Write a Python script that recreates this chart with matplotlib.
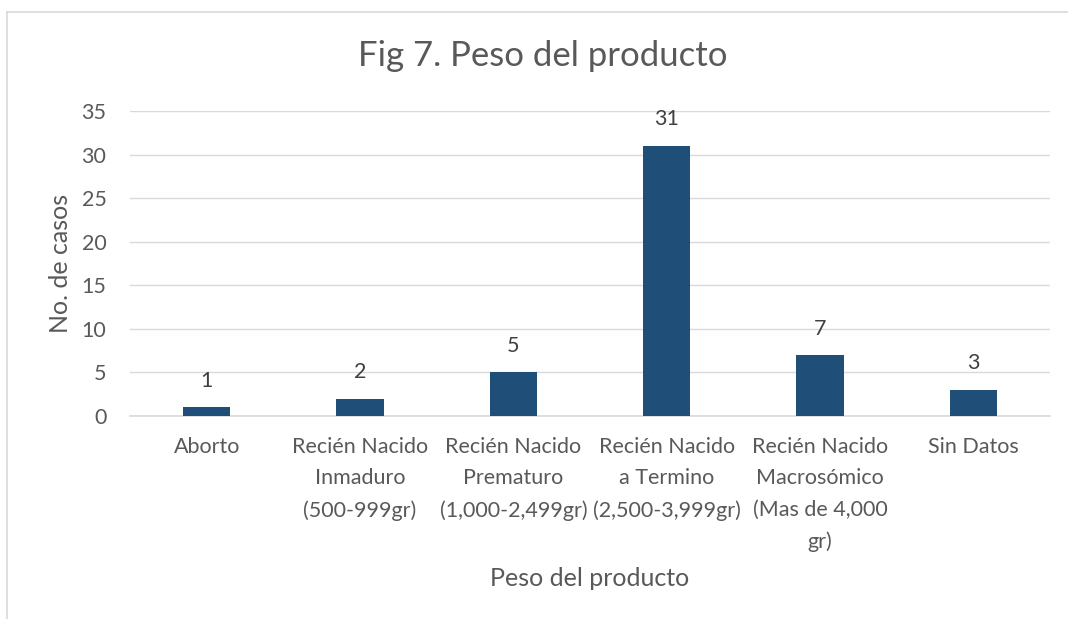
import matplotlib
matplotlib.use("Agg")
import matplotlib.pyplot as plt
from matplotlib.lines import Line2D

categories = [
    "Aborto",
    "Recién Nacido\nInmaduro\n(500-999gr)",
    "Recién Nacido\nPrematuro\n(1,000-2,499gr)",
    "Recién Nacido\na Termino\n(2,500-3,999gr)",
    "Recién Nacido\nMacrosómico\n(Mas de 4,000\ngr)",
    "Sin Datos",
]
casos = [1, 2, 5, 31, 7, 3]
y_ticks = [0, 5, 10, 15, 20, 25, 30, 35]

text_color = "#595959"
bar_color = "#1F4E79"
grid_color = "#D9D9D9"

plt.rcParams["font.family"] = ["Lato", "DejaVu Sans"]

fig = plt.figure(figsize=(10.68, 6.19), dpi=100)
ax = fig.add_axes([130 / 1068, 1 - 416 / 619, 920 / 1068, 305 / 619])

x = list(range(len(categories)))
ax.bar(x, casos, width=0.31, color=bar_color, zorder=3)
for xi, v in zip(x, casos):
    ax.annotate(str(v), (xi, v), xytext=(0, 19), textcoords="offset points",
                ha="center", va="center", fontsize=15.5, color="#404040")

ax.set_xlim(-0.5, len(categories) - 0.5)
ax.set_ylim(0, 35)
ax.set_yticks(y_ticks)
ax.yaxis.grid(True, color=grid_color, linewidth=1.0, zorder=0)
ax.set_xticks(x)
ax.set_xticklabels(categories, fontsize=15.5, color=text_color, linespacing=1.72)
ax.tick_params(axis="y", labelsize=15.5, labelcolor=text_color, length=0, pad=17)
ax.tick_params(axis="x", length=0, pad=15)
for side in ["top", "right", "left"]:
    ax.spines[side].set_visible(False)
ax.spines["bottom"].set_color(grid_color)
ax.spines["bottom"].set_linewidth(1.2)

fig.text(60 / 1068, 1 - 263 / 619, "No. de casos", fontsize=18, rotation=90,
         color=text_color, ha="center", va="center")
fig.text(590 / 1068, 1 - 578 / 619, "Peso del producto", fontsize=18,
         color=text_color, ha="center", va="center")
fig.text(543 / 1068, 1 - 56 / 619, "Fig 7. Peso del producto", fontsize=25,
         color=text_color, ha="center", va="center")

# chart area border (top and left edges visible)
fig.add_artist(Line2D([7 / 1068, 1], [1 - 12 / 619, 1 - 12 / 619],
                      transform=fig.transFigure, color="#D9D9D9", linewidth=1.2))
fig.add_artist(Line2D([7 / 1068, 7 / 1068], [0, 1 - 12 / 619],
                      transform=fig.transFigure, color="#D9D9D9", linewidth=1.2))

fig.savefig("out.png", dpi=100)
